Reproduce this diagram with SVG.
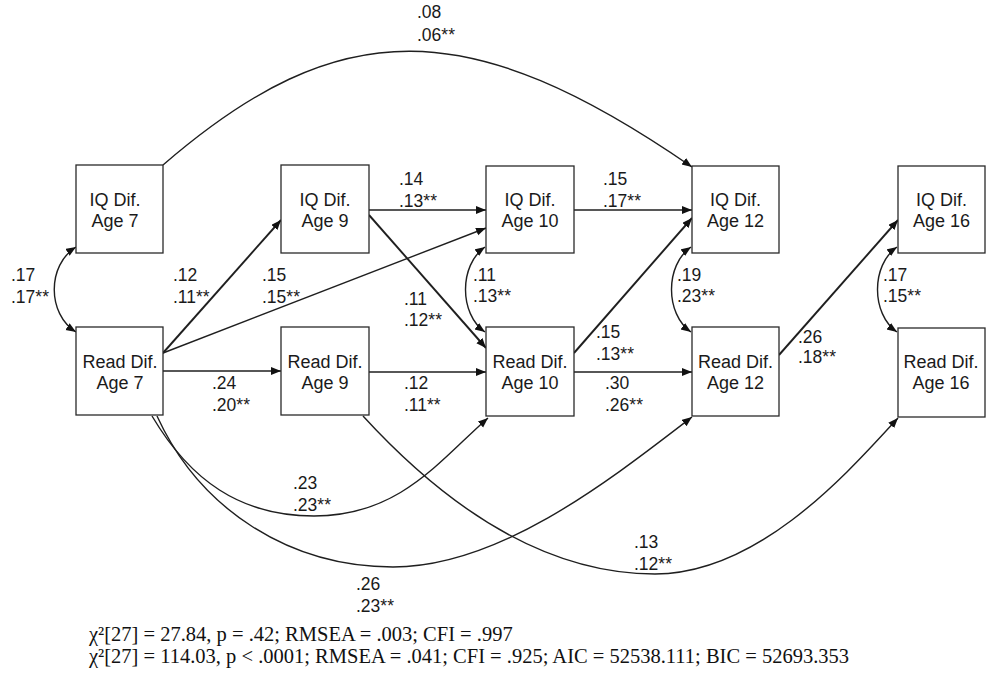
<svg xmlns="http://www.w3.org/2000/svg" width="990" height="680" viewBox="0 0 990 680">
<defs>
<style>
.box{fill:#fff;stroke:#2a2a2a;stroke-width:1.3}
.nt{font-family:"Liberation Sans",Arial,sans-serif;font-size:18px;fill:#1a1a1a;text-anchor:middle}
.lb{font-family:"Liberation Sans",Arial,sans-serif;font-size:17.5px;fill:#1a1a1a}
.e{fill:none;stroke:#1f1f1f;stroke-width:1.4;marker-end:url(#ah)}
.b{stroke-width:1.9}
.cov{fill:none;stroke:#1f1f1f;stroke-width:1.4;marker-start:url(#ah);marker-end:url(#ah)}
.ft{font-family:"Liberation Serif","Times New Roman",serif;font-size:20.5px;fill:#111}
</style>
<marker id="ah" markerUnits="userSpaceOnUse" markerWidth="11" markerHeight="9" refX="10" refY="4" orient="auto-start-reverse">
<path d="M0,0 L10,4 L0,8 Z" fill="#111"/>
</marker>
</defs>
<rect width="990" height="680" fill="#fff"/>
<g id="connectors">
<path class="e" d="M163,165 C340,12 470,14 692,167"/>
<path class="cov" d="M76,247 C47,265 47,314 76,332"/>
<path class="cov" d="M485,247 C459,265 459,314 485,332"/>
<path class="cov" d="M691,247 C665,265 665,314 691,332"/>
<path class="cov" d="M897,247 C871,265 871,314 897,332"/>
<path class="e b" d="M163,353 L281,220"/>
<path class="e" d="M163,353 L486,228"/>
<path class="e" d="M163,371 L281,371"/>
<path class="e" d="M369,210 L486,210"/>
<path class="e b" d="M369,215 L486,348"/>
<path class="e" d="M369,372 L486,372"/>
<path class="e" d="M574,210 L692,210"/>
<path class="e b" d="M574,353 L692,218"/>
<path class="e" d="M574,372 L692,372"/>
<path class="e b" d="M779,355 L898,220"/>
<path class="e" d="M152,416 C190,480 240,516 314,516 C400,516 440,460 488,418"/>
<path class="e" d="M157,416 C200,510 290,567 393,567 C500,567 610,480 692,417"/>
<path class="e" d="M363,416 C440,500 540,574 655,574 C760,574 850,470 898,418"/>
</g>
<g id="labels" class="lb">
<text x="417" y="18">.08</text><text x="417" y="41">.06**</text>
<text x="11" y="281">.17</text><text x="11" y="303">.17**</text>
<text x="173" y="281">.12</text><text x="173" y="303">.11**</text>
<text x="262" y="281">.15</text><text x="262" y="303">.15**</text>
<text x="399" y="185">.14</text><text x="399" y="207">.13**</text>
<text x="603" y="185">.15</text><text x="603" y="207">.17**</text>
<text x="473" y="281">.11</text><text x="473" y="302">.13**</text>
<text x="404" y="305">.11</text><text x="404" y="326">.12**</text>
<text x="677" y="281">.19</text><text x="677" y="302">.23**</text>
<text x="883" y="281">.17</text><text x="883" y="302">.15**</text>
<text x="212" y="389">.24</text><text x="212" y="411">.20**</text>
<text x="404" y="389">.12</text><text x="404" y="411">.11**</text>
<text x="596" y="338">.15</text><text x="596" y="360">.13**</text>
<text x="605" y="389">.30</text><text x="605" y="411">.26**</text>
<text x="798" y="343">.26</text><text x="798" y="363">.18**</text>
<text x="293" y="489">.23</text><text x="293" y="511">.23**</text>
<text x="356" y="590">.26</text><text x="356" y="612">.23**</text>
<text x="634" y="548">.13</text><text x="634" y="570">.12**</text>
</g>
<g id="iq7"><rect class="box" x="76" y="165" width="87" height="88"/><text class="nt" x="115" y="206">IQ Dif.</text><text class="nt" x="115" y="227">Age 7</text></g>
<g id="iq9"><rect class="box" x="281" y="165" width="88" height="88"/><text class="nt" x="325" y="206">IQ Dif.</text><text class="nt" x="325" y="227">Age 9</text></g>
<g id="iq10"><rect class="box" x="486" y="166" width="88" height="87"/><text class="nt" x="530" y="206">IQ Dif.</text><text class="nt" x="530" y="227">Age 10</text></g>
<g id="iq12"><rect class="box" x="692" y="166" width="87" height="87"/><text class="nt" x="735.5" y="206">IQ Dif.</text><text class="nt" x="735.5" y="227">Age 12</text></g>
<g id="iq16"><rect class="box" x="898" y="166" width="87" height="87"/><text class="nt" x="941.5" y="206">IQ Dif.</text><text class="nt" x="941.5" y="227">Age 16</text></g>
<g id="read7"><rect class="box" x="76" y="327" width="87" height="88"/><text class="nt" x="120" y="368">Read Dif.</text><text class="nt" x="120" y="389">Age 7</text></g>
<g id="read9"><rect class="box" x="281" y="327" width="88" height="88"/><text class="nt" x="325" y="368">Read Dif.</text><text class="nt" x="325" y="389">Age 9</text></g>
<g id="read10"><rect class="box" x="486" y="327" width="88" height="89"/><text class="nt" x="530" y="368">Read Dif.</text><text class="nt" x="530" y="389">Age 10</text></g>
<g id="read12"><rect class="box" x="692" y="327" width="87" height="89"/><text class="nt" x="735.5" y="368">Read Dif.</text><text class="nt" x="735.5" y="389">Age 12</text></g>
<g id="read16"><rect class="box" x="898" y="328" width="87" height="89"/><text class="nt" x="941" y="368">Read Dif.</text><text class="nt" x="941" y="389">Age 16</text></g>
<g id="fit">
<text class="ft" x="89" y="641">χ²[27] = 27.84, p = .42; RMSEA = .003; CFI = .997</text>
<text class="ft" x="89" y="663">χ²[27] = 114.03, p &lt; .0001; RMSEA = .041; CFI = .925; AIC = 52538.111; BIC = 52693.353</text>
</g>
</svg>
